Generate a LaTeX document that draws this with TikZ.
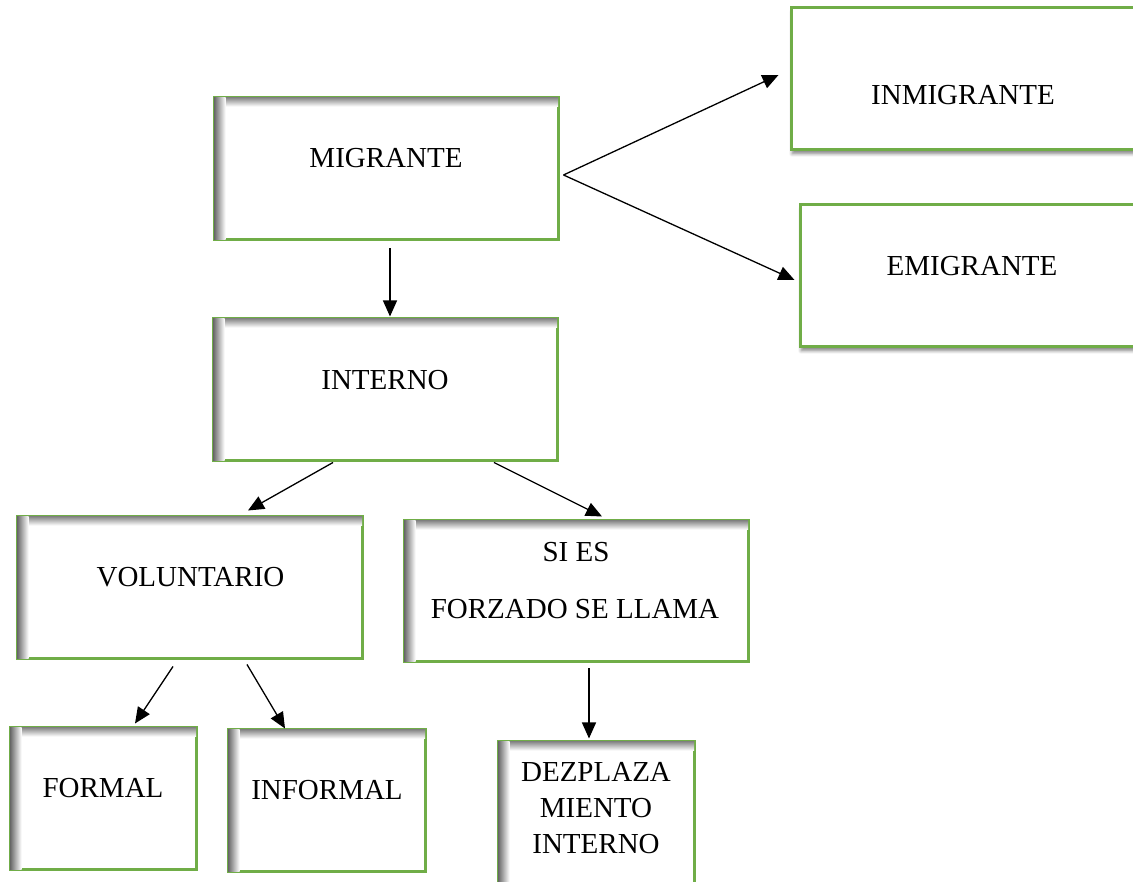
\documentclass[tikz,border=0pt]{standalone}
\usepackage{fontspec}
\setmainfont{Liberation Serif}
\usetikzlibrary{arrows.meta,shadows.blur}
\definecolor{grn}{RGB}{112,173,71}
\tikzset{
  boxbase/.style={draw=grn, line width=3pt, fill=white, inner sep=0pt, rectangle},
  ibox/.style={boxbase},
  obox/.style={boxbase, blur shadow={shadow xshift=1pt, shadow yshift=-4pt, shadow blur radius=3pt, shadow opacity=45}},
  lbl/.style={inner sep=0pt, font=\fontsize{29}{35}\selectfont, anchor=center},
  arr/.style={-{Triangle[length=16pt,width=14pt]}, line width=1.3pt, black}
}
\newcommand\inshade[1]{%
  \shade[top color=black!45, bottom color=white]
    ([xshift=1.5pt,yshift=-1.5pt]#1.north west) rectangle ([xshift=-1.5pt,yshift=-10pt]#1.north east);
  \shade[left color=black!60, right color=white]
    ([xshift=1.5pt,yshift=1.5pt]#1.south west) rectangle ([xshift=13pt,yshift=-1.5pt]#1.north west);
}
\begin{document}
\begin{tikzpicture}[x=1pt,y=1pt]
\useasboundingbox (0,0) rectangle (1133,882);
\clip (0,0) rectangle (1133,882);
% boxes
\node[ibox, minimum width=344pt, minimum height=142pt] (mig) at (386,882-169) {};
\node[obox, minimum width=352pt, minimum height=142pt] (inm) at (967,882-79) {};
\node[obox, minimum width=343pt, minimum height=142pt] (emi) at (971.5,882-276) {};
\node[ibox, minimum width=344pt, minimum height=142pt] (int) at (385,882-390) {};
\node[ibox, minimum width=345pt, minimum height=142pt] (vol) at (189.5,882-588) {};
\node[ibox, minimum width=344pt, minimum height=141pt] (sies) at (576,882-591.5) {};
\node[ibox, minimum width=186pt, minimum height=142pt] (for) at (103,882-799) {};
\node[ibox, minimum width=197pt, minimum height=142pt] (inf) at (326.5,882-801) {};
\node[ibox, minimum width=196pt, minimum height=142pt] (dez) at (596,882-813) {};
\inshade{mig}
\inshade{int}
\inshade{vol}
\inshade{sies}
\inshade{for}
\inshade{inf}
\inshade{dez}
% labels
\node[lbl] (tmig) at (386,882-158) {MIGRANTE};
\node[lbl] (tinm) at (963,882-95.5) {INMIGRANTE};
\node[lbl] (temi) at (972,882-266.5) {EMIGRANTE};
\node[lbl] (tint) at (385,882-380) {INTERNO};
\node[lbl] (tvol) at (190.5,882-577) {VOLUNTARIO};
\node[lbl] (tsies1) at (576,882-552) {SI ES};
\node[lbl] (tsies2) at (575,882-609) {FORZADO SE LLAMA};
\node[lbl] (tfor) at (103,882-788) {FORMAL};
\node[lbl] (tinf) at (327,882-790) {INFORMAL};
\node[lbl] (tdez1) at (596,882-771.5) {DEZPLAZA};
\node[lbl] (tdez2) at (596,882-808) {MIENTO};
\node[lbl] (tdez3) at (596,882-844.5) {INTERNO};
% connectors
\draw[arr] ([shift={(4,-6)}]mig.east) -- ([shift={(-11,4)}]inm.west);
\draw[arr] ([shift={(4,-6)}]mig.east) -- ([shift={(-4,-4)}]emi.west);
\draw[arr] ([shift={(4,-7)}]mig.south) -- ([shift={(5,1)}]int.north);
\draw[arr] ([shift={(-52,0)}]int.south) -- ([shift={(58.5,5)}]vol.north);
\draw[arr] ([shift={(109,0)}]int.south) -- ([shift={(26,3)}]sies.north);
\draw[arr] ([shift={(-16.5,-6)}]vol.south) -- ([shift={(32,3)}]for.north);
\draw[arr] ([shift={(57.5,-4)}]vol.south) -- ([shift={(-41.5,0)}]inf.north);
\draw[arr] ([shift={(13,-5)}]sies.south) -- ([shift={(-7,2)}]dez.north);
\end{tikzpicture}
\end{document}
